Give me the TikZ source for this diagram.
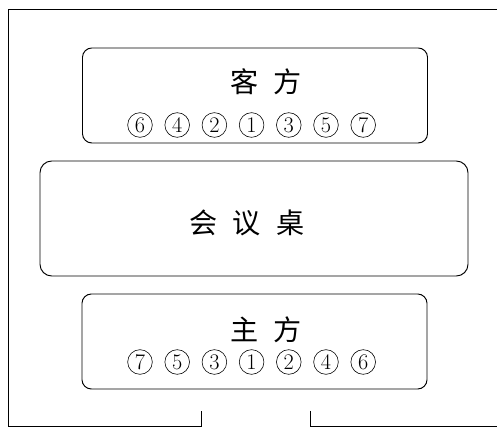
\documentclass[tikz,border=0pt]{standalone}
\usepackage{fontspec}
\newfontfamily\cjk{Noto Sans CJK SC}
\usetikzlibrary{positioning}
\tikzset{
	side/.style={draw,rounded corners=8pt,line width=0.8pt,minimum width=10.35cm,minimum height=2.85cm},
	seat/.style={draw,circle,line width=0.5pt,inner sep=0pt,minimum size=0.74cm,font=\fontsize{19}{19}\selectfont},
	label/.style={font=\cjk\fontsize{24}{24}\selectfont}
}
\begin{document}
\begin{tikzpicture}[x=0.03cm,y=-0.03cm,line width=0.8pt]
	\useasboundingbox (0,0) rectangle (497,428);
	\node[side] (guest) at (255,95.5) {};
	\node[draw,rounded corners=10pt,line width=0.8pt,minimum width=12.84cm,minimum height=3.45cm] (table) at (254,218.5) {};
	\node[side] (host) at (254.5,341.5) {};
	\node[label] (guestname) at (266,82) {客\hspace{0.55em}方};
	\node[label] (tablename) at (247,223) {会\hspace{0.55em}议\hspace{0.55em}桌};
	\node[label] (hostname) at (266,330) {主\hspace{0.55em}方};
	\foreach \n [count=\i from 0] in {6,4,2,1,3,5,7}
		\node[seat] (g\n) at ({140+37.2*\i},125) {\n};
	\foreach \n [count=\i from 0] in {7,5,3,1,2,4,6}
		\node[seat] (h\n) at ({140+37.2*\i},362) {\n};
	\coordinate (tr) at (497,9);
	\coordinate (tl) at (8,9);
	\coordinate (bl) at (8,426);
	\coordinate (dl) at (201,426);
	\coordinate (dlt) at (201,411);
	\coordinate (dr) at (310,426);
	\coordinate (drt) at (310,411);
	\coordinate (br) at (497,426);
	\draw (tr) -- (tl) -- (bl) -- (dl) -- (dlt);
	\draw (drt) -- (dr) -- (br);
\end{tikzpicture}
\end{document}
